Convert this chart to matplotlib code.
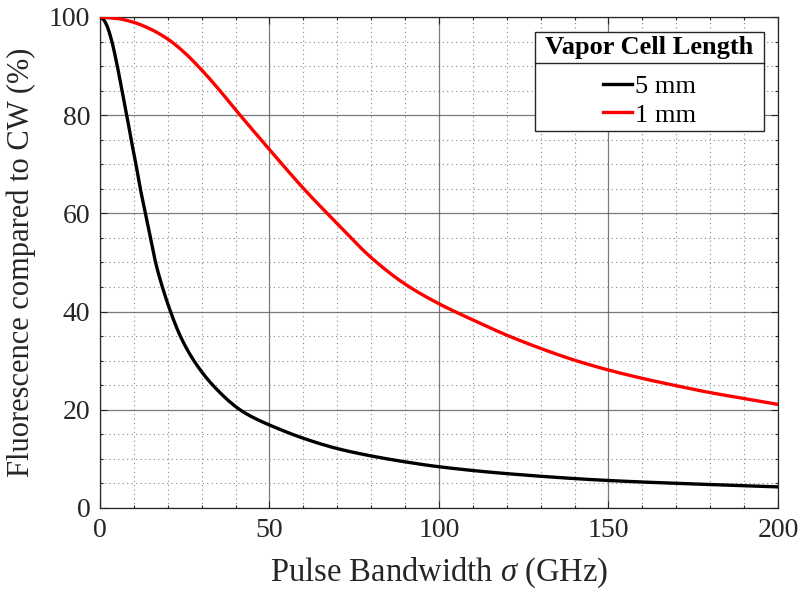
import matplotlib
matplotlib.use('Agg')
import matplotlib.pyplot as plt
from matplotlib.lines import Line2D
from matplotlib.ticker import MultipleLocator
import numpy as np

plt.rcParams['font.family'] = ['Liberation Serif', 'DejaVu Serif']
plt.rcParams['mathtext.fontset'] = 'custom'
plt.rcParams['mathtext.rm'] = 'Liberation Serif'
plt.rcParams['mathtext.it'] = 'Liberation Serif:italic'

# ── Dados ─────────────────────────────────────────────────────────────────
# 5 mm (preto)
sig_5mm = [0, 1, 2, 3.5, 5.1, 6.5, 7.9, 9.2, 10.6, 11.9, 13.4, 14.9, 16.4,
           18.4, 20.8, 23.7, 27.7, 33.3, 41.3, 45, 50, 60, 70, 80, 90, 100,
           120, 150, 175, 200]
fl_5mm = [100, 99.5, 98.3, 95, 90, 85, 80, 75, 70, 65, 60, 55, 50,
          45, 40, 35, 30, 25, 20, 18.5, 16.9, 14.2, 12.1, 10.6, 9.4, 8.4,
          7.0, 5.6, 4.9, 4.3]

# 1 mm (vermelho)
sig_1mm = [0, 5, 10, 15, 20, 25, 30, 35, 40, 50, 60, 70, 80, 90, 100, 110,
           120, 130, 140, 150, 160, 170, 180, 190, 200]
fl_1mm = [100, 99.7, 98.9, 97.5, 95.5, 92.7, 89.2, 85.3, 81.1, 73.0, 65.1,
          57.9, 51.0, 45.6, 41.6, 38.3, 35.2, 32.5, 30.1, 28.1, 26.4, 24.9,
          23.5, 22.3, 21.1]

legenda = ['5 mm', '1 mm']
titulo_leg = ' Vapor Cell Length '


# interpolação monótona (PCHIP) só para o traçado ficar suave
def suave(x, y, n=800):
    x = np.asarray(x, float)
    y = np.asarray(y, float)
    h = np.diff(x)
    d = np.diff(y) / h
    m = np.zeros_like(y)
    for k in range(1, len(x) - 1):
        if d[k - 1] * d[k] > 0:
            w1 = 2 * h[k] + h[k - 1]
            w2 = h[k] + 2 * h[k - 1]
            m[k] = (w1 + w2) / (w1 / d[k - 1] + w2 / d[k])
    m[0] = d[0]
    m[-1] = d[-1]
    xs = np.linspace(x[0], x[-1], n)
    i = np.clip(np.searchsorted(x, xs) - 1, 0, len(x) - 2)
    t = (xs - x[i]) / h[i]
    h00 = 2 * t**3 - 3 * t**2 + 1
    h10 = t**3 - 2 * t**2 + t
    h01 = -2 * t**3 + 3 * t**2
    h11 = t**3 - t**2
    ys = h00 * y[i] + h10 * h[i] * m[i] + h01 * y[i + 1] + h11 * h[i] * m[i + 1]
    return xs, ys


fig = plt.figure(figsize=(8.02, 5.92), dpi=100)
ax = fig.add_axes([0.1247, 0.1419, 0.8453, 0.8294])

cor_eixo = '#262626'
xs, ys = suave(sig_5mm, fl_5mm)
ax.plot(xs, ys, color='black', lw=2.4, label=legenda[0], zorder=3)
xs, ys = suave(sig_1mm, fl_1mm)
ax.plot(xs, ys, color='#ff0000', lw=2.4, label=legenda[1], zorder=3)

ax.set_xlim(0, 200)
ax.set_ylim(0, 100)
ax.xaxis.set_major_locator(MultipleLocator(50))
ax.xaxis.set_minor_locator(MultipleLocator(10))
ax.yaxis.set_major_locator(MultipleLocator(20))
ax.yaxis.set_minor_locator(MultipleLocator(5))
ax.grid(which='major', color='#5a5a5a', lw=0.9, alpha=0.8)
ax.grid(which='minor', color='#7a7a7a', lw=0.8, ls=(0, (1, 3)), alpha=0.9)
ax.set_axisbelow(True)
ax.tick_params(which='both', direction='in', top=True, right=True,
               colors=cor_eixo, labelsize=20, width=0.8)
ax.tick_params(which='major', length=5, pad=7)
ax.tick_params(which='minor', length=2.5)
for s in ax.spines.values():
    s.set_color(cor_eixo)
    s.set_linewidth(0.9)

ax.set_xlabel(r'Pulse Bandwidth $\sigma$ (GHz)', fontsize=23.5, color=cor_eixo,
              labelpad=9)
ax.set_ylabel('Fluorescence compared to CW (%)', fontsize=22, color=cor_eixo,
              labelpad=9)

leg = ax.legend(loc='upper right', bbox_to_anchor=(0.979, 0.969),
                title=titulo_leg, fontsize=19, fancybox=False,
                framealpha=1, edgecolor=cor_eixo, handlelength=1.1,
                handletextpad=0.1, borderpad=0.15, labelspacing=0.2,
                borderaxespad=0)
leg.get_title().set_fontweight('bold')
leg.get_title().set_fontsize(19)
leg.get_frame().set_linewidth(1.0)
leg._legend_box.sep = 11  # mais espaço entre título e itens

# linha separando o título da legenda
fig.canvas.draw()
r = fig.canvas.get_renderer()
fb = leg.get_frame().get_window_extent(r)
tb = leg.get_title().get_window_extent(r)
ysep = tb.y0 - 4
fig.add_artist(Line2D([fb.x0, fb.x1], [ysep, ysep], transform=None,
                      color=cor_eixo, lw=1.0, zorder=10))

plt.savefig('out.png', dpi=100)
plt.close()
